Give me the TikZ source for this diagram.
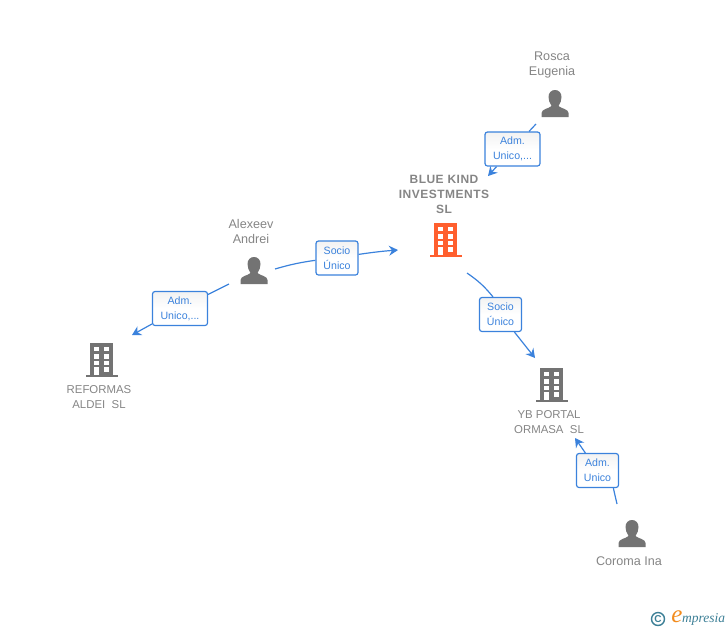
\documentclass[tikz,border=0pt]{standalone}
\usepackage{fontspec}
\setmainfont{Liberation Sans}
\newfontfamily\logofont{Liberation Serif}
\usetikzlibrary{arrows.meta}
\definecolor{linkblue}{HTML}{3B82DC}
\definecolor{icongray}{HTML}{737373}
\definecolor{labelgray}{HTML}{858585}
\definecolor{mainorange}{HTML}{FF5F2E}
\definecolor{logoteal}{HTML}{3C7F96}
\definecolor{logoorange}{HTML}{F28C1E}
\tikzset{
  link/.style={draw=linkblue, line width=1.2pt},
  linkarrow/.style={link, -{Stealth[length=9pt,width=10pt,inset=3pt]}},
  rolebox/.style={draw=linkblue, line width=1.2pt, rounded corners=2.5pt, top color=black!5, bottom color=white, middle color=white,
    text=linkblue, font=\fontsize{10.6}{15}\selectfont, align=center, inner sep=0pt, minimum height=34pt},
  admbox/.style={rolebox, minimum width=55pt},
  sociobox/.style={rolebox, minimum width=42pt},
  namelabel/.style={text=labelgray, font=\fontsize{12.6}{15}\selectfont, align=center, inner sep=0pt},
  capslabel/.style={namelabel, font=\fontsize{11.4}{15}\selectfont},
  person/.pic={
    \fill[icongray] (-13.5,0) -- (-13.5,-4) .. controls (-13.5,-8) and (-6,-8.5) .. (-3.5,-11)
      .. controls (-5.5,-14) and (-6.5,-17) .. (-6.5,-20) .. controls (-6.5,-24.5) and (-3.5,-27) .. (0,-27)
      .. controls (3.5,-27) and (6.5,-24.5) .. (6.5,-20) .. controls (6.5,-17) and (5.5,-14) .. (3.5,-11)
      .. controls (6,-8.5) and (13.5,-8) .. (13.5,-4) -- (13.5,0) -- cycle;
  },
  building/.pic={
    \fill[pic actions] (-16,-2) rectangle (16,0);
    \fill[pic actions] (-11.5,-34) rectangle (11.5,-1);
    \foreach \rowtop/\rowbot in {-30/-26,-23/-18.5,-16.5/-12.5} {
      \fill[white] (-7.5,\rowtop) rectangle (-3,\rowbot);
      \fill[white] (2.5,\rowtop) rectangle (7.5,\rowbot);
    }
    \fill[white] (-7.5,-10) rectangle (-3,-2);
    \fill[white] (2.5,-10) rectangle (7.5,-5.5);
  }
}
\begin{document}
\begin{tikzpicture}[x=1pt,y=-1pt]
\useasboundingbox (0,0) rectangle (728,630);
% icons
\pic at (555,117) {person};
\pic at (254,284) {person};
\pic at (632,547) {person};
\pic[fill=mainorange] at (445.5,257) {building};
\pic[fill=icongray] at (101.5,377) {building};
\pic[fill=icongray] at (551.5,402) {building};
% names
\node[namelabel] (rosca) at (552,65) {Rosca\\Eugenia};
\node[namelabel] (alexeev) at (251,231) {Alexeev\\Andrei};
\node[namelabel] (coroma) at (629,561) {Coroma Ina};
\node[namelabel, font=\fontsize{12}{15}\selectfont\bfseries\addfontfeature{LetterSpace=4}] (blue) at (444,194) {BLUE KIND\\INVESTMENTS\\SL};
\node[capslabel] (reformas) at (99,397.5) {REFORMAS\\ALDEI\ \ SL};
\node[capslabel] (portal) at (549,422) {YB PORTAL\\ORMASA\ \ SL};
% boxes
\node[admbox] (admrosca) at (512.5,149) {Adm.\\Unico,...};
\node[sociobox] (socioalexeev) at (337,258) {Socio\\Único};
\node[admbox] (admalexeev) at (180,308.5) {Adm.\\Unico,...};
\node[sociobox] (socioblue) at (500.5,314.5) {Socio\\Único};
\node[sociobox] (admcoroma) at (597.5,470.5) {Adm.\\Unico};
% free ends
\coordinate (roscaout) at (536,124);
\coordinate (bluein) at (488,176);
\coordinate (alexeevout) at (275,269);
\coordinate (blueleft) at (398,250);
\coordinate (alexeevdown) at (229,284);
\coordinate (reformasin) at (132,335);
\coordinate (blueout) at (467,273);
\coordinate (portalin) at (535,358);
\coordinate (coromaout) at (617,504);
\coordinate (portalbelow) at (575,438);
% links
\draw[link] (roscaout) -- (admrosca);
\draw[linkarrow] (admrosca) -- (bluein);
\draw[link] (alexeevout) to[bend left=4] (socioalexeev);
\draw[linkarrow] (socioalexeev) to[bend left=2] (blueleft);
\draw[link] (alexeevdown) -- (admalexeev);
\draw[linkarrow] (admalexeev) -- (reformasin);
\draw[link] (blueout) to[bend left=8] (socioblue.113);
\draw[linkarrow] (socioblue) -- (portalin);
\draw[link] (coromaout) -- (admcoroma.-48);
\draw[linkarrow] (admcoroma) -- (portalbelow);
% logo
\node[inner sep=0pt, text=logoteal, font=\bfseries\fontsize{10}{10}\selectfont] (copyright) at (658,619) {C};
\draw[logoteal, line width=1.4pt] (copyright) circle (6.5);
\node[inner sep=0pt, text=logoorange, font=\logofont\itshape\fontsize{25}{25}\selectfont] (logoe) at (677,617) {e};
\node[inner sep=0pt, text=logoteal, font=\logofont\itshape\fontsize{13.5}{13.5}\selectfont, anchor=west] (logotext) at (682,619) {mpresia};
\end{tikzpicture}
\end{document}
